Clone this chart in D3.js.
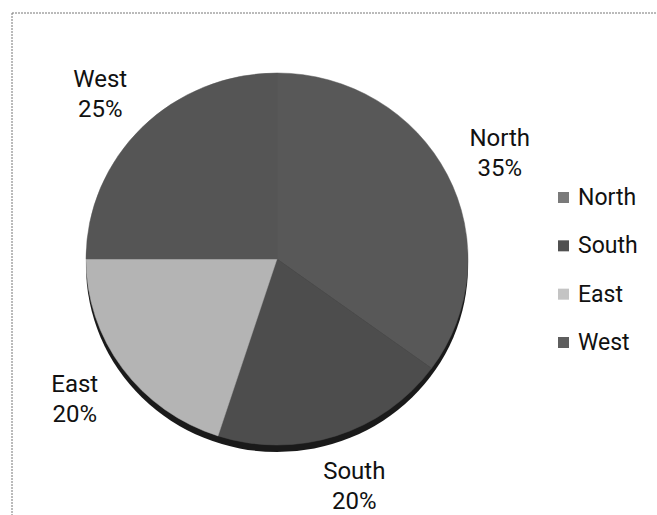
<!DOCTYPE html>
<html>
<head>
<meta charset="utf-8">
<script src="https://cdn.jsdelivr.net/npm/d3@7"></script>
<style>
  html, body { margin: 0; padding: 0; background: #fff; }
  svg { display: block; }
  text { font-family: Roboto, "Liberation Sans", sans-serif; fill: #111; }
</style>
</head>
<body>
<svg id="chart" width="657" height="515"></svg>
<script>
const categories = ["North", "South", "East", "West"];
const values = [35, 20, 20, 25];
const percentLabels = ["35%", "20%", "20%", "25%"];
const colors = ["#585858", "#4d4d4d", "#b4b4b4", "#555555"];
const legendColors = ["#7a7a7a", "#505050", "#c4c4c4", "#5e5e5e"];

const svg = d3.select("#chart");
const W = 657, H = 515;
const cx = 277, cy = 259;
const rx = 191, ry = 186;

// dotted frame (top and left)
svg.append("line").attr("x1", 12).attr("y1", 13).attr("x2", W).attr("y2", 13)
  .attr("stroke", "#777").attr("stroke-width", 1).attr("stroke-dasharray", "2,1");
svg.append("line").attr("x1", 12).attr("y1", 13).attr("x2", 12).attr("y2", H)
  .attr("stroke", "#777").attr("stroke-width", 1).attr("stroke-dasharray", "2,1");

const data = categories.map((c, i) => ({ name: c, value: values[i], label: percentLabels[i], color: colors[i] }));
const pie = d3.pie().value(d => d.value).sort(null).startAngle(0).endAngle(2 * Math.PI);
const arcs = pie(data);

const arc = d3.arc().innerRadius(0).outerRadius(rx);

// shadow
svg.append("g")
  .attr("transform", `translate(${cx},${cy + 7}) scale(1, ${ry / rx})`)
  .append("circle").attr("r", rx).attr("fill", "#1a1a1a");

const g = svg.append("g")
  .attr("transform", `translate(${cx},${cy}) scale(1, ${ry / rx})`);

g.selectAll("path.slice").data(arcs).enter().append("path")
  .attr("class", "slice")
  .attr("d", arc)
  .attr("fill", d => d.data.color)
  .attr("stroke", d => d.data.color)
  .attr("stroke-width", 0.5);

// data labels (outside end, centred on the slice's mid-angle)
const labelRx = 250, labelRyTop = 232, labelRyBottom = 240;
const lab = svg.append("g").attr("transform", `translate(${cx},${cy})`);
arcs.forEach(d => {
  const a = (d.startAngle + d.endAngle) / 2;
  const c = Math.cos(a);
  const x = Math.sin(a) * labelRx;
  const y = -c * (c > 0 ? labelRyTop : labelRyBottom);
  const t = lab.append("text").attr("text-anchor", "middle").style("font-size", "24px");
  t.append("tspan").attr("x", x).attr("y", y - 8).text(d.data.name);
  t.append("tspan").attr("x", x).attr("y", y + 22).text(d.data.label);
});

// legend
const legendY = d3.scalePoint().domain(categories).range([197, 342]);
const leg = svg.append("g");
categories.forEach((c, i) => {
  const y = legendY(c);
  leg.append("rect").attr("x", 558).attr("y", y - 5).attr("width", 11).attr("height", 11)
    .attr("fill", legendColors[i]);
  leg.append("text").attr("x", 578).attr("y", y + 8).style("font-size", "23px").text(c);
});
</script>
</body>
</html>
